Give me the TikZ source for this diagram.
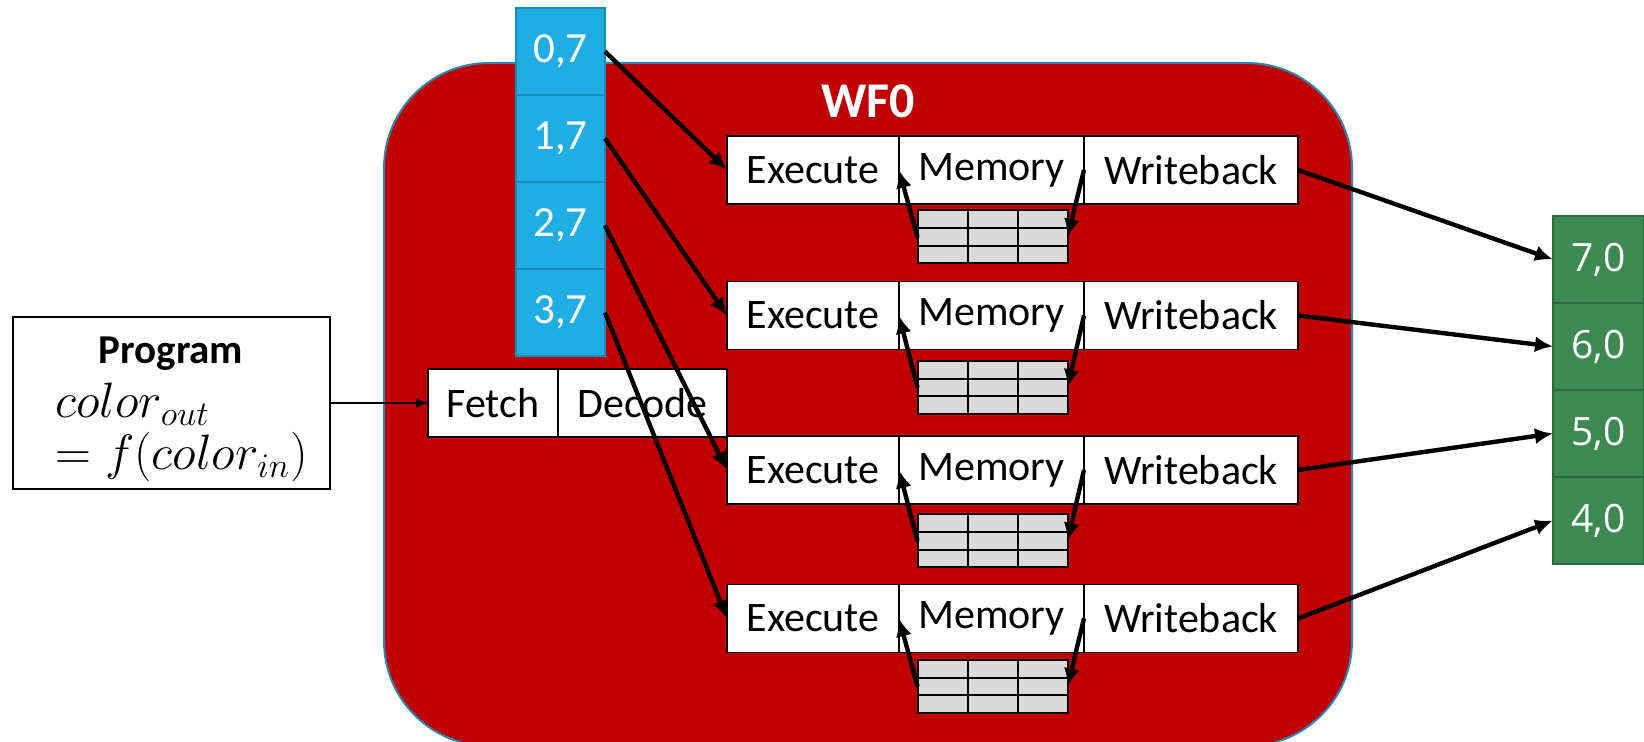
\documentclass[tikz,border=0pt]{standalone}
\usepackage{fontspec}
\setmainfont{Carlito}
\newfontfamily\cellfont{Open Sans}
\usetikzlibrary{positioning,arrows.meta}

\definecolor{wfred}{RGB}{192,0,0}
\definecolor{wfedge}{RGB}{46,134,176}
\definecolor{inblue}{RGB}{31,173,228}
\definecolor{inedge}{RGB}{24,140,190}
\definecolor{outgreen}{RGB}{60,138,82}
\definecolor{outedge}{RGB}{44,104,62}
\definecolor{regfill}{RGB}{217,217,217}

\tikzset{
  stage/.style={draw, fill=white, line width=0.75pt, minimum height=34pt,
    inner sep=0pt, outer sep=0pt, font=\fontsize{21}{25}\selectfont},
  exbox/.style={stage, minimum width=86pt},
  membox/.style={stage, minimum width=92.5pt},
  wbbox/.style={stage, minimum width=107pt},
  incell/.style={draw=inedge, fill=inblue, line width=1pt, minimum width=44.5pt,
    minimum height=43.5pt, inner sep=0pt, outer sep=0pt, text=white,
    font=\fontsize{21.5}{25}\selectfont},
  outcell/.style={draw=outedge, fill=outgreen, line width=1pt, minimum width=45.5pt,
    minimum height=43.5pt, inner sep=0pt, outer sep=0pt, text=white,
    font=\cellfont\fontsize{19.5}{24}\selectfont},
  regfile/.style={draw, fill=regfill, line width=1pt, minimum width=75pt,
    minimum height=26.5pt, inner sep=0pt, outer sep=0pt,
    path picture={
      \draw[line width=1pt]
        ([xshift=25pt]path picture bounding box.north west) -- ([xshift=25pt]path picture bounding box.south west)
        ([xshift=50pt]path picture bounding box.north west) -- ([xshift=50pt]path picture bounding box.south west)
        ([yshift=-8.83pt]path picture bounding box.north west) -- ([yshift=-8.83pt]path picture bounding box.north east)
        ([yshift=-17.67pt]path picture bounding box.north west) -- ([yshift=-17.67pt]path picture bounding box.north east);}},
  flow/.style={->, line width=2.2pt},
  wfbox/.style={fill=wfred, draw=wfedge, line width=1pt, rounded corners=52.5pt}
}

\begin{document}
\begin{tikzpicture}[x=0.5pt, y=-0.5pt, >={Latex[length=9pt,width=8pt]}]

\useasboundingbox (0,0) rectangle (1644,742);
\clip (0,0) rectangle (1644,742);

% wavefront
\draw[wfbox] (384,63) rectangle (1352,746);
\node[text=white, font=\bfseries\fontsize{25}{30}\selectfont] (wflabel) at (868,101) {WF0};

% program
\node[draw, line width=0.75pt, minimum width=158.5pt, minimum height=86pt] (prog) at (171.5,403) {};
\node[font=\bfseries\fontsize{20.5}{24}\selectfont] (progname) at (171,354) {Program};
\node[anchor=base west, inner sep=0pt, font=\fontsize{25}{29}\selectfont] (proglhs) at (55,418) {$color_{out}$};
\node[anchor=base west, inner sep=0pt, font=\fontsize{25}{29}\selectfont] (progrhs) at (55,470) {$= f(color_{in})$};

\node[stage, minimum width=65pt, anchor=west] (fetch) at (428,403) {Fetch};
\node[stage, minimum width=84.5pt, right=0pt of fetch] (decode) {Decode};

% input pixels
\node[incell] (c07) at (560.5,51.5) {0,7};
\node[incell, below=0pt of c07] (c17) {1,7};
\node[incell, below=0pt of c17] (c27) {2,7};
\node[incell, below=0pt of c27] (c37) {3,7};

% output pixels
\node[outcell] (c70) at (1598.5,259.5) {7,0};
\node[outcell, below=0pt of c70] (c60) {6,0};
\node[outcell, below=0pt of c60] (c50) {5,0};
\node[outcell, below=0pt of c50] (c40) {4,0};

% lanes
\node[exbox, anchor=west] (ex1) at (727,170) {Execute};
\node[membox, right=0pt of ex1] (me1) {Memory};
\node[wbbox, right=0pt of me1] (wb1) {Writeback};
\node[regfile] (rf1) at (992.5,237) {};

\node[exbox, anchor=west] (ex2) at (727,315.5) {Execute};
\node[membox, right=0pt of ex2] (me2) {Memory};
\node[wbbox, right=0pt of me2] (wb2) {Writeback};
\node[regfile] (rf2) at (992.5,387.5) {};

\node[exbox, anchor=west] (ex3) at (727,470) {Execute};
\node[membox, right=0pt of ex3] (me3) {Memory};
\node[wbbox, right=0pt of me3] (wb3) {Writeback};
\node[regfile] (rf3) at (992.5,541) {};

\node[exbox, anchor=west] (ex4) at (727,618.5) {Execute};
\node[membox, right=0pt of ex4] (me4) {Memory};
\node[wbbox, right=0pt of me4] (wb4) {Writeback};
\node[regfile] (rf4) at (992.5,686.5) {};

% arrows
\draw[->, line width=0.8pt, >={Latex[length=6pt,width=5pt]}] (prog) -- (fetch);

\draw[flow] (c07.east) -- (ex1.west);
\draw[flow] (c17.east) -- (ex2.west);
\draw[flow] (c27.east) -- (ex3.west);
\draw[flow] (c37.east) -- (ex4.west);

\draw[flow] (rf1.west) -- (me1.west);
\draw[flow] (me1.east) -- (rf1.east);
\draw[flow] (rf2.west) -- (me2.west);
\draw[flow] (me2.east) -- (rf2.east);
\draw[flow] (rf3.west) -- (me3.west);
\draw[flow] (me3.east) -- (rf3.east);
\draw[flow] (rf4.west) -- (me4.west);
\draw[flow] (me4.east) -- (rf4.east);

\draw[flow] (wb1.east) -- (c70.west);
\draw[flow] (wb2.east) -- (c60.west);
\draw[flow] (wb3.east) -- (c50.west);
\draw[flow] (wb4.east) -- (c40.west);

\end{tikzpicture}
\end{document}
